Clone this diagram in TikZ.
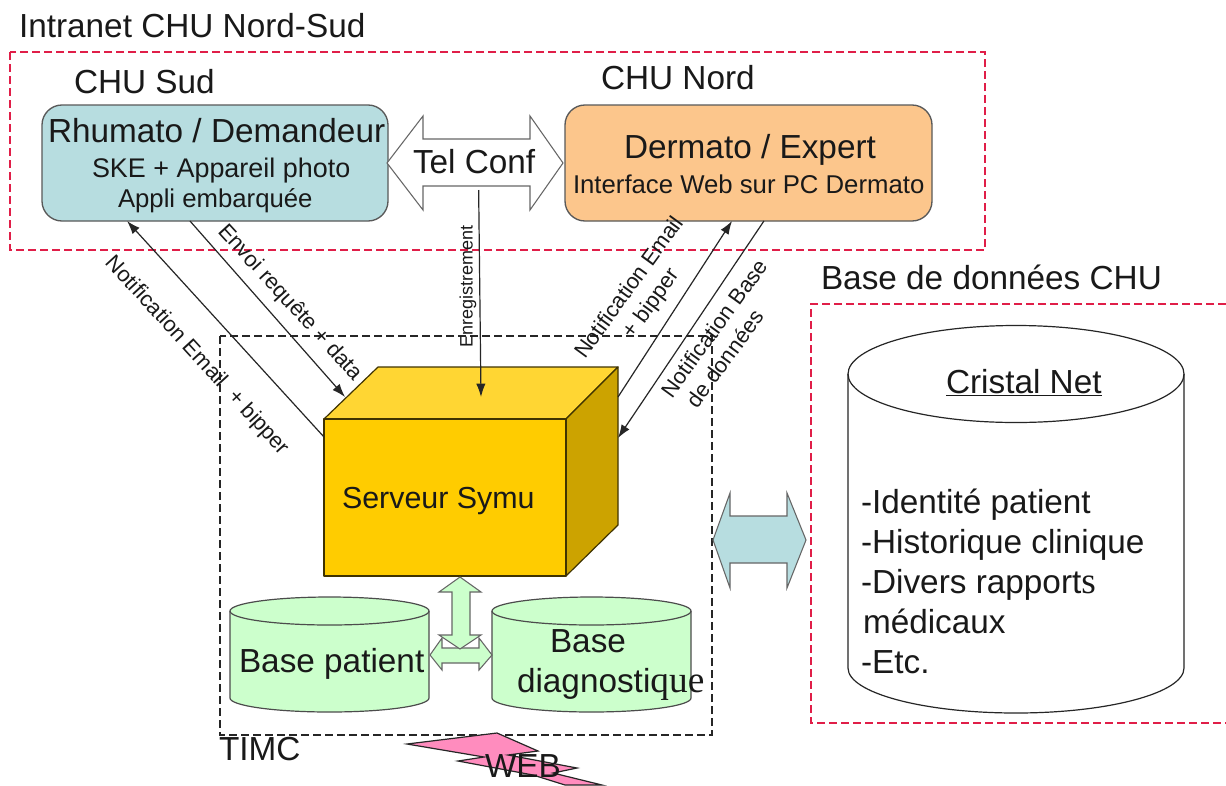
\documentclass[tikz,border=0pt]{standalone}
\usepackage{fontspec}
\setmainfont{Liberation Sans}
\newfontfamily\timesfont[Scale=1.12]{Liberation Serif}
\usetikzlibrary{arrows.meta,calc}
\definecolor{rhcol}{RGB}{183,221,224}
\definecolor{decol}{RGB}{252,198,140}
\definecolor{redd}{RGB}{224,30,72}
\definecolor{cubefront}{RGB}{255,204,0}
\definecolor{cubetop}{RGB}{255,214,51}
\definecolor{cubeside}{RGB}{204,163,0}
\definecolor{greenf}{RGB}{204,255,204}
\definecolor{webpink}{RGB}{255,140,190}
\begin{document}
\begin{tikzpicture}[x=0.75pt,y=-0.75pt,
  lbl/.style={inner sep=0pt,outer sep=0pt,anchor=base west,font=\fontsize{25}{30}\selectfont,text=black!90},
  lblb/.style={lbl,font=\fontsize{22.8}{27}\selectfont},
  sublbl/.style={lbl,font=\fontsize{19.3}{23}\selectfont},
  rotlbl/.style={inner sep=0pt,outer sep=0pt,font=\fontsize{16.4}{20}\selectfont,text=black!90},
  reddash/.style={draw=redd,line width=0.9pt,dash pattern=on 6pt off 3pt},
  blackdash/.style={draw=black!85,line width=0.9pt,dash pattern=on 6pt off 3pt},
  conn/.style={draw=black!85,line width=0.9pt,-{Latex[length=10pt,width=7pt]}},
  dbl/.style={draw=black!60,line width=0.8pt},
  cyl/.style={draw=black!70,line width=0.9pt,fill=greenf},
  boxx/.style={draw=black!65,line width=1pt,rounded corners=15pt,minimum width=#1,minimum height=87pt,inner sep=0pt,outer sep=0pt},
  cubeedge/.style={draw=black!75!cubefront,line width=0.9pt,line join=round},
]
\useasboundingbox (0,0) rectangle (1226,785);
\fill[white] (0,0) rectangle (1226,785);

% dashed zones
\draw[reddash] (10,52) rectangle (985,250);
\draw[reddash] (1226,304) -- (811,304) -- (811,723) -- (1226,723);
\draw[blackdash] (220,336) rectangle (712,735);

% zone titles
\node[lbl] (tIntra) at (19,37) {Intranet CHU Nord-Sud};
\node[lbl] (tSud) at (74,93) {CHU Sud};
\node[lbl] (tNord) at (601,89) {CHU Nord};
\node[lbl] (tBdd) at (821,289) {Base de données CHU};
\node[lbl] (tTimc) at (219,760) {TIMC};

% boxes
\node[boxx=259.5pt,fill=rhcol] (rh) at (215,163) {};
\node[boxx=275.25pt,fill=decol] (de) at (748.5,163) {};
\node[lbl] (rh1) at (48,142) {Rhumato / Demandeur};
\node[sublbl,font=\fontsize{20.2}{24}\selectfont] (rh2) at (92,177) {SKE + Appareil photo};
\node[sublbl] (rh3) at (118,207) {Appli embarquée};
\node[lbl] (de1) at (624,158) {Dermato / Expert};
\node[sublbl] (de2) at (573,193) {Interface Web sur PC Dermato};

% Tel Conf arrow
\draw[dbl,fill=white,line join=miter] (387,163) -- (423,116) -- (423,139) -- (530,139) -- (530,116) -- (563,163) -- (530,210) -- (530,186) -- (423,186) -- (423,210) -- cycle;
\node[lbl] (tel) at (413,173) {Tel Conf};

% cube
\node[inner sep=0pt,outer sep=0pt,minimum width=220.5pt,minimum height=156.75pt] (cube) at (471,471.5) {};
\draw[cubeedge,fill=cubetop] (324,419) -- (378,367) -- (618,367) -- (566,419) -- cycle;
\draw[cubeedge,fill=cubeside] (566,419) -- (618,367) -- (618,525) -- (566,576) -- cycle;
\draw[cubeedge,fill=cubefront] (324,419) rectangle (566,576);
\node[lblb] (srv) at (342,508) {Serveur Symu};

% connectors
\draw[conn] ($(cube.north west)+(0,70)$) -- ($(rh.south west)!0.2457!(rh.south east)$);
\draw[conn] ($(rh.south west)!0.4277!(rh.south east)$) -- ($(cube.north west)+(21,30)$);
\draw[conn] ($(tel.base)+(4.5,17)$) -- ($(cube.north west)+(157,30)$);
\draw[conn] ($(cube.north east)+(0,30)$) -- ($(de.south west)!0.455!(de.south east)$);
\draw[conn] ($(de.south west)!0.542!(de.south east)$) -- ($(cube.north east)+(0,71)$);

% connector labels
\node[rotlbl,rotate=-47.5] (lNotif) at (197,356) {Notification Email\ \ + bipper};
\node[rotlbl,rotate=-47.5] (lEnvoi) at (290,303) {Envoi requête + data};
\node[rotlbl,rotate=90,font=\fontsize{13.5}{16}\selectfont] (lEnreg) at (468,286.5) {Enregistrement};
\node[rotlbl,rotate=54,align=center] (lEmail) at (641,296) {Notification Email\\+ bipper};
\node[rotlbl,rotate=54,align=left] (lBase) at (725,336) {Notification Base\\\hspace{5pt}de données};

% databases
\draw[cyl] (230,611) -- (230,698) arc[start angle=180,end angle=0,x radius=99.5,y radius=14] -- (429,611) arc[start angle=0,end angle=-180,x radius=99.5,y radius=14] -- cycle;
\draw[cyl,fill=none] (230,611) arc[start angle=180,end angle=0,x radius=99.5,y radius=14];
\draw[cyl] (492,611) -- (492,698) arc[start angle=180,end angle=0,x radius=99.5,y radius=14] -- (691,611) arc[start angle=0,end angle=-180,x radius=99.5,y radius=14] -- cycle;
\draw[cyl,fill=none] (492,611) arc[start angle=180,end angle=0,x radius=99.5,y radius=14];

% green arrows
\draw[dbl,fill=greenf,line join=miter] (430,655) -- (442,638) -- (442,648) -- (479,648) -- (479,638) -- (492,655) -- (479,670) -- (479,663) -- (442,663) -- (442,670) -- cycle;
\draw[dbl,fill=greenf,line join=miter] (460,577) -- (481,592) -- (470,592) -- (470,635) -- (481,635) -- (460,649) -- (439,635) -- (452,635) -- (452,592) -- (439,592) -- cycle;

\node[lbl] (bp) at (239,672) {Base patient};
\node[lbl] (bd1) at (550,652) {Base};
\node[lbl] (bd2) at (517,692) {diagnosti{\timesfont que}};

% blue arrow
\draw[dbl,fill=rhcol,line join=miter] (713,540) -- (730,493) -- (730,516) -- (787,516) -- (787,493) -- (806,540) -- (787,588) -- (787,563) -- (730,563) -- (730,588) -- cycle;

% Cristal Net
\draw[draw=black!85,line width=0.9pt,fill=white] (848,374) -- (848,668) arc[start angle=180,end angle=0,x radius=168,y radius=45] -- (1184,374) arc[start angle=0,end angle=-180,x radius=168,y radius=48.5] -- cycle;
\draw[draw=black!85,line width=0.9pt] (848,374) arc[start angle=180,end angle=0,x radius=168,y radius=48.5];
\node[lbl] (cn) at (946,393) {\underline{Cristal Net}};
\node[lbl] (c1) at (861,513) {-Identité patient};
\node[lbl] (c2) at (861,553) {-Historique clinique};
\node[lbl] (c3) at (861,593) {-Divers rapport{\timesfont s}};
\node[lbl] (c4) at (863,633) {médicaux};
\node[lbl] (c5) at (861,673) {-Etc.};

% WEB lightning
\draw[draw=black!85,line width=0.9pt,fill=webpink,line join=miter] (407,744) -- (497,733) -- (538,751) -- (508,755) -- (577,768) -- (553,773) -- (602,785) -- (565,785) -- (533,775) -- (458,761) -- (484,757) -- cycle;
\node[lbl] (web) at (485,777) {WEB};
\end{tikzpicture}
\end{document}
